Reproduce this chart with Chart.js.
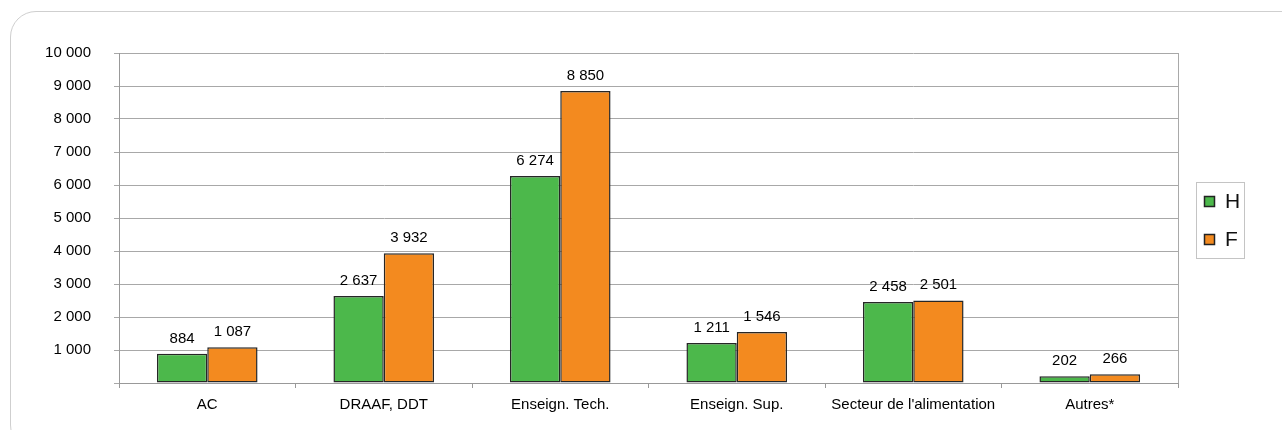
<!DOCTYPE html>
<html>
<head>
<meta charset="utf-8">
<script src="https://cdn.jsdelivr.net/npm/chart.js@4"></script>
<style>
  html, body { margin: 0; padding: 0; background: #fff; overflow: hidden; }
  #wrap { position: relative; width: 1282px; height: 430px; overflow: hidden; }
  #panel {
    position: absolute; left: 10px; top: 11px; width: 1300px; height: 440px;
    border: 1px solid #cfcfcf; border-radius: 26px; box-sizing: border-box;
  }
  #chart { position: absolute; left: 0; top: 0; }
</style>
</head>
<body>
<div id="wrap">
  <div id="panel"></div>
  <canvas id="chart" width="1282" height="430"></canvas>
</div>
<script>
// Données
const categories = ["AC", "DRAAF, DDT", "Enseign. Tech.", "Enseign. Sup.", "Secteur de l'alimentation", "Autres*"];
const valeursH = [884, 2637, 6274, 1211, 2458, 202];
const valeursF = [1087, 3932, 8850, 1546, 2501, 266];
const seriesLabels = ["H", "F"];

const FONT = "'Liberation Sans', Arial, Helvetica, sans-serif";
const vert = "#4cb84b";
const orange = "#f38a1f";

// format "10 000"
function fmt(v) {
  return String(v).replace(/\B(?=(\d{3})+(?!\d))/g, " ");
}

// valeurs au-dessus des barres
const valeursPlugin = {
  id: "valeurs",
  afterDatasetsDraw(chart) {
    const ctx = chart.ctx;
    ctx.save();
    ctx.font = "15px " + FONT;
    ctx.fillStyle = "#000";
    ctx.textAlign = "center";
    ctx.textBaseline = "alphabetic";
    chart.data.datasets.forEach((ds, i) => {
      chart.getDatasetMeta(i).data.forEach((bar, j) => {
        ctx.fillText(fmt(ds.data[j]), bar.x, bar.y - 11);
      });
    });
    ctx.restore();
  }
};

// bord droit de la zone + légende encadrée
const cadrePlugin = {
  id: "cadre",
  afterDraw(chart) {
    const ctx = chart.ctx;
    const a = chart.chartArea;
    ctx.save();
    ctx.strokeStyle = "#a9a9a9";
    ctx.lineWidth = 1;
    ctx.beginPath();
    ctx.moveTo(Math.round(a.right) + 0.5, a.top);
    ctx.lineTo(Math.round(a.right) + 0.5, a.bottom);
    ctx.stroke();

    // légende
    const lx = 1196, ly = 182;
    ctx.strokeStyle = "#c4c4c4";
    ctx.strokeRect(lx + 0.5, ly + 0.5, 48, 76);
    ctx.font = "21px " + FONT;
    ctx.textAlign = "left";
    ctx.textBaseline = "middle";
    chart.data.datasets.forEach((ds, i) => {
      const y = ly + 14 + i * 38;
      ctx.fillStyle = ds.backgroundColor;
      ctx.fillRect(lx + 8, y, 11, 11);
      ctx.lineWidth = 1.5;
      ctx.strokeStyle = "#222";
      ctx.strokeRect(lx + 8.5, y + 0.5, 10, 10);
      ctx.fillStyle = "#111";
      ctx.fillText(ds.label, lx + 29, y + 6);
    });
    ctx.restore();
  }
};

new Chart(document.getElementById("chart").getContext("2d"), {
  type: "bar",
  data: {
    labels: categories,
    datasets: [
      {
        label: seriesLabels[0],
        data: valeursH,
        backgroundColor: vert,
        borderColor: "#262626",
        borderWidth: 1.5,
        borderSkipped: false,
        categoryPercentage: 0.57,
        barPercentage: 1.0
      },
      {
        label: seriesLabels[1],
        data: valeursF,
        backgroundColor: orange,
        borderColor: "#262626",
        borderWidth: 1.5,
        borderSkipped: false,
        categoryPercentage: 0.57,
        barPercentage: 1.0
      }
    ]
  },
  options: {
    responsive: false,
    animation: false,
    layout: { padding: { left: 0, right: 104, top: 53, bottom: 0 } },
    plugins: {
      legend: { display: false },
      tooltip: { enabled: false }
    },
    scales: {
      x: {
        grid: {
          display: true,
          drawOnChartArea: false,
          offset: true,
          tickLength: 5,
          color: "#999"
        },
        border: { display: true, color: "#999" },
        ticks: {
          color: "#000",
          font: { family: FONT, size: 15 },
          padding: 8,
          maxRotation: 0,
          autoSkip: false
        },
        afterFit: (s) => { s.height = 47; }
      },
      y: {
        min: 0,
        max: 10000,
        grid: { color: "#a8a8a8", tickLength: 5 },
        border: { display: true, color: "#999" },
        ticks: {
          stepSize: 1000,
          color: "#000",
          font: { family: FONT, size: 15 },
          padding: 23,
          callback: (v) => (v === 0 ? "" : fmt(v))
        },
        afterFit: (s) => { s.width = 119; }
      }
    }
  },
  plugins: [valeursPlugin, cadrePlugin]
});
</script>
</body>
</html>
